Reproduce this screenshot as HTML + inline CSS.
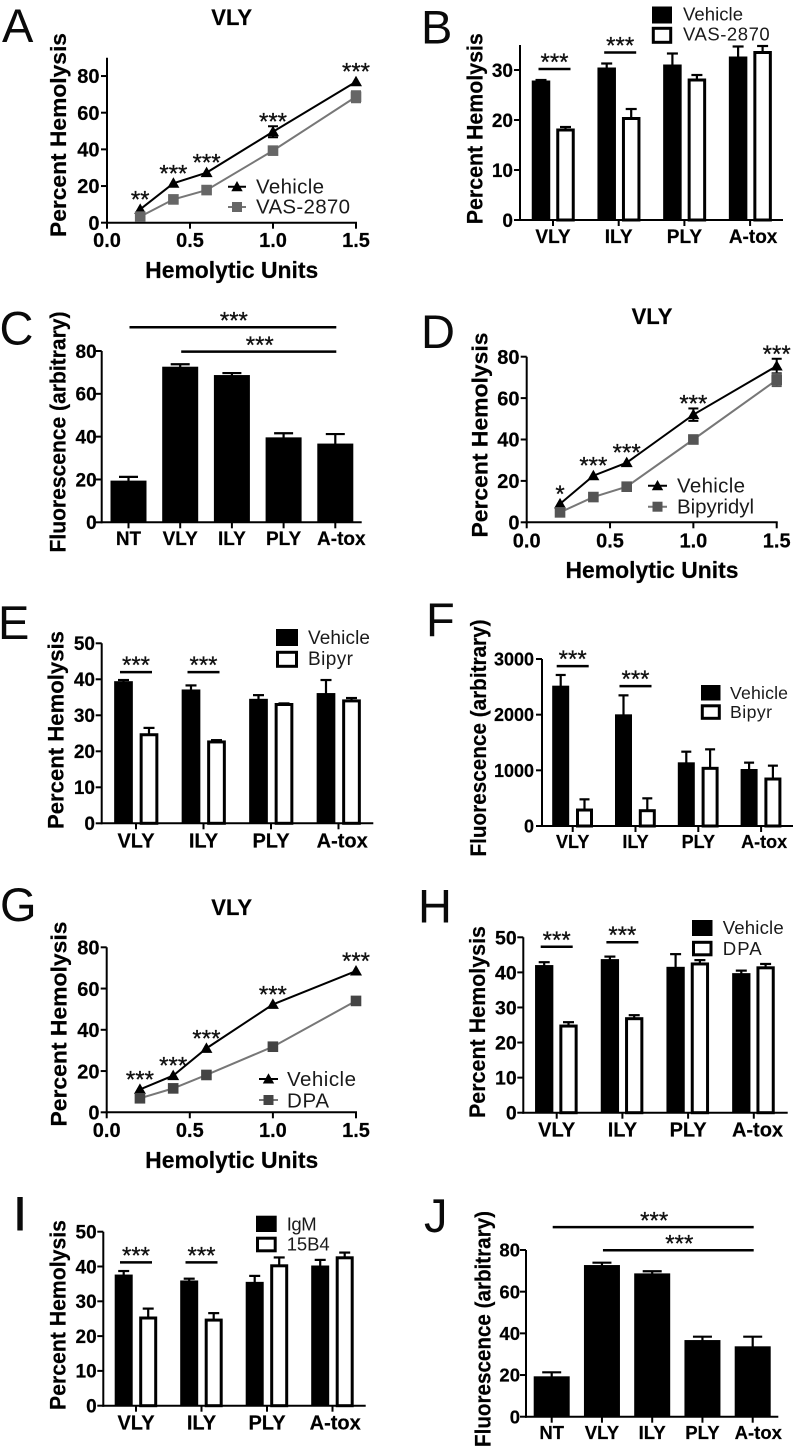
<!DOCTYPE html>
<html lang="en">
<head>
<meta charset="utf-8">
<title>Hemolysis and fluorescence figure panels</title>
<style>
html,body{margin:0;padding:0;background:#fff;}
svg{display:block;font-family:"Liberation Sans",Arial,sans-serif;filter:blur(0.3px);}
.letter{font-size:47px;fill:#0a0a0a;}
.title{font-size:22px;font-weight:bold;fill:#000;text-anchor:middle;stroke:#000;stroke-width:.2px;}
.ytitle{font-size:22.5px;font-weight:bold;fill:#000;text-anchor:middle;stroke:#000;stroke-width:.2px;}
.xtitle{font-size:22.8px;font-weight:bold;fill:#000;text-anchor:middle;stroke:#000;stroke-width:.2px;}
.leg{fill:#1a1a1a;}
</style>
</head>
<body>
<svg id="figure" xmlns="http://www.w3.org/2000/svg" width="800" height="1452" viewBox="0 0 800 1452">
<rect x="0" y="0" width="800" height="1452" fill="#fff"/>

<g id="panel-a">
  <text class="letter" x="2" y="42">A</text>
  <text class="title" x="231.7" y="25">VLY</text>
  <text class="ytitle" transform="translate(66 135) rotate(-90)" textLength="204" lengthAdjust="spacingAndGlyphs">Percent Hemolysis</text>
  <text class="xtitle" x="231.7" y="278" textLength="173" lengthAdjust="spacingAndGlyphs">Hemolytic Units</text>
  <g>
    <line x1="228" x2="246" y1="186.7" y2="186.7" stroke="#000" stroke-width="2"/>
    <polygon points="237,181 242.7,191.2 231.3,191.2" fill="#000"/>
    <text class="leg" x="256" y="193.5" font-size="20.5" textLength="68">Vehicle</text>
    <line x1="228" x2="246" y1="207" y2="207" stroke="#777" stroke-width="2"/>
    <rect x="232" y="202" width="10" height="10" fill="#666"/>
    <text class="leg" x="256" y="213.5" font-size="20.5" textLength="94">VAS-2870</text>
  </g>
</g>

<g id="panel-b">
  <text class="letter" x="421" y="43.5">B</text>
  <text class="ytitle" transform="translate(482.7 128.7) rotate(-90)" textLength="191" lengthAdjust="spacingAndGlyphs">Percent Hemolysis</text>
  <g>
    <rect x="652" y="6.5" width="20" height="17" fill="#000"/>
    <text class="leg" x="683" y="20.7" font-size="18.5" textLength="60">Vehicle</text>
    <rect x="653.3" y="28.3" width="17.4" height="14" fill="#fff" stroke="#000" stroke-width="3"/>
    <text class="leg" x="683" y="40.7" font-size="18.5" textLength="86.7">VAS-2870</text>
  </g>
</g>

<g id="panel-c">
  <text class="letter" x="-0.5" y="344.5">C</text>
  <text class="ytitle" transform="translate(65.7 432) rotate(-90)" textLength="241" lengthAdjust="spacingAndGlyphs">Fluorescence (arbitrary)</text>
</g>

<g id="panel-d">
  <text class="letter" x="421" y="348">D</text>
  <text class="title" x="652" y="324">VLY</text>
  <text class="ytitle" transform="translate(487.3 435) rotate(-90)" textLength="205" lengthAdjust="spacingAndGlyphs">Percent Hemolysis</text>
  <text class="xtitle" x="652" y="578" textLength="173" lengthAdjust="spacingAndGlyphs">Hemolytic Units</text>
  <g>
    <line x1="648" x2="667" y1="485.7" y2="485.7" stroke="#000" stroke-width="2"/>
    <polygon points="657.5,480 663.2,490.2 651.8,490.2" fill="#000"/>
    <text class="leg" x="677" y="492.3" font-size="20.5" textLength="68">Vehicle</text>
    <line x1="648" x2="667" y1="506.7" y2="506.7" stroke="#777" stroke-width="2"/>
    <rect x="652.5" y="501.7" width="10" height="10" fill="#555"/>
    <text class="leg" x="677" y="513.3" font-size="20.5" textLength="77">Bipyridyl</text>
  </g>
</g>

<g id="panel-e">
  <text class="letter" x="-2" y="639">E</text>
  <text class="ytitle" transform="translate(63.3 730) rotate(-90)" textLength="198" lengthAdjust="spacingAndGlyphs">Percent Hemolysis</text>
  <g>
    <rect x="276" y="629" width="22" height="17" fill="#000"/>
    <text class="leg" x="308" y="644" font-size="19" textLength="62">Vehicle</text>
    <rect x="277.5" y="652.3" width="19" height="14" fill="#fff" stroke="#000" stroke-width="3"/>
    <text class="leg" x="308" y="665" font-size="19" textLength="45">Bipyr</text>
  </g>
</g>

<g id="panel-f">
  <text class="letter" x="426" y="636">F</text>
  <text class="ytitle" transform="translate(486 738) rotate(-90)" textLength="237" lengthAdjust="spacingAndGlyphs">Fluorescence (arbitrary)</text>
  <g>
    <rect x="701" y="685" width="19.5" height="15.5" fill="#000"/>
    <text class="leg" x="730" y="699" font-size="17.7" textLength="58">Vehicle</text>
    <rect x="702.3" y="705.8" width="17" height="12.5" fill="#fff" stroke="#000" stroke-width="3"/>
    <text class="leg" x="730" y="718" font-size="17.7" textLength="42">Bipyr</text>
  </g>
</g>

<g id="panel-g">
  <text class="letter" x="0" y="921">G</text>
  <text class="title" x="231.7" y="915">VLY</text>
  <text class="ytitle" transform="translate(66.7 1024) rotate(-90)" textLength="205" lengthAdjust="spacingAndGlyphs">Percent Hemolysis</text>
  <text class="xtitle" x="231.7" y="1168" textLength="173" lengthAdjust="spacingAndGlyphs">Hemolytic Units</text>
  <g>
    <line x1="259" x2="278" y1="1079" y2="1079" stroke="#000" stroke-width="2"/>
    <polygon points="268.5,1073.3 274.2,1083.5 262.8,1083.5" fill="#000"/>
    <text class="leg" x="287" y="1086" font-size="20.5" textLength="69">Vehicle</text>
    <line x1="259" x2="278" y1="1100" y2="1100" stroke="#777" stroke-width="2"/>
    <rect x="263.5" y="1095" width="10" height="10" fill="#444"/>
    <text class="leg" x="287" y="1107.3" font-size="20.5" textLength="42">DPA</text>
  </g>
</g>

<g id="panel-h">
  <text class="letter" x="418" y="922.7">H</text>
  <text class="ytitle" transform="translate(485 1022) rotate(-90)" textLength="192" lengthAdjust="spacingAndGlyphs">Percent Hemolysis</text>
  <g>
    <rect x="692" y="920" width="20.5" height="16" fill="#000"/>
    <text class="leg" x="722.7" y="934" font-size="18.6" textLength="61">Vehicle</text>
    <rect x="693.5" y="942.3" width="17.5" height="12.5" fill="#fff" stroke="#000" stroke-width="3"/>
    <text class="leg" x="722.7" y="955" font-size="18.6" textLength="39">DPA</text>
  </g>
</g>

<g id="panel-i">
  <text class="letter" x="20" y="1230" text-anchor="middle" stroke="#0a0a0a" stroke-width="1">I</text>
  <text class="ytitle" transform="translate(65.7 1315) rotate(-90)" textLength="190" lengthAdjust="spacingAndGlyphs">Percent Hemolysis</text>
  <g>
    <rect x="256" y="1215.7" width="20.7" height="16.3" fill="#000"/>
    <text class="leg" x="286.7" y="1230.7" font-size="18.5" textLength="30">IgM</text>
    <rect x="257.5" y="1238.2" width="17.7" height="12.6" fill="#fff" stroke="#000" stroke-width="3"/>
    <text class="leg" x="286.7" y="1250.7" font-size="18.5" textLength="43">15B4</text>
  </g>
</g>

<g id="panel-j">
  <text class="letter" x="424" y="1232">J</text>
  <text class="ytitle" transform="translate(490.7 1329) rotate(-90)" textLength="236" lengthAdjust="spacingAndGlyphs">Fluorescence (arbitrary)</text>
</g>
</svg>

<script>
// ---------- shared categories and tick labels ----------
const doseValues = [0.2, 0.4, 0.6, 1.0, 1.5];
const doseTicks = [0, 0.5, 1.0, 1.5];
const doseTickLabels = ['0.0', '0.5', '1.0', '1.5'];
const toxinCategories = ['VLY', 'ILY', 'PLY', 'A-tox'];
const fluorCategories = ['NT', 'VLY', 'ILY', 'PLY', 'A-tox'];
const ticksTo30 = [0, 10, 20, 30];
const ticksTo50 = [0, 10, 20, 30, 40, 50];
const ticksTo80 = [0, 20, 40, 60, 80];
const ticksTo3000 = [0, 1000, 2000, 3000];

// ---------- panel A ----------
const aVehicle = [7.3, 21.5, 27.3, 49.6, 76.9];
const aVehicleErr = [0, 0, 0, 3, 0];
const aTreated = [3.3, 12.7, 17.8, 39.3, 68.7];
const aTreatedErr = [0, 0, 0, 0, 3];
const aStars = ['**', '***', '***', '***', '***'];
// ---------- panel B ----------
const bVehicle = [27.7, 30.3, 30.9, 32.5];
const bVehicleErr = [0.3, 1, 2.4, 2.2];
const bTreated = [18, 20.3, 28, 33.5];
const bTreatedErr = [0.6, 1.9, 1, 1.3];
const bSigLevels = [30.2, 33.5];
// ---------- panel C ----------
const cValues = [19, 72.2, 68.3, 39.2, 36.3];
const cErr = [2.2, 1.6, 1.4, 2.4, 4.9];
const cSigFrom = [0, 1];
const cSigTo = [4, 4];
const cSigLevels = [91.1, 79.7];
// ---------- panel D ----------
const dVehicle = [8.9, 22.5, 28.8, 52, 75.5];
const dVehicleErr = [0, 0, 0, 3, 3.5];
const dTreated = [4.8, 12.2, 17.2, 40, 68.8];
const dTreatedErr = [0, 0, 0, 0, 3];
const dStars = ['*', '***', '***', '***', '***'];
// ---------- panel E ----------
const eVehicle = [39.2, 36.9, 34.3, 35.9];
const eVehicleErr = [0.6, 1.4, 1.3, 3.9];
const eTreated = [24.6, 22.6, 33, 34];
const eTreatedErr = [1.9, 0.5, 0.3, 0.8];
const eSigLevels = [42, 42];
// ---------- panel F ----------
const fVehicle = [2503, 1988, 1126, 1006];
const fVehicleErr = [210, 359, 209, 132];
const fTreated = [287, 275, 1036, 844];
const fTreatedErr = [192, 222, 341, 240];
const fSigLevels = [2873, 2513];
// ---------- panel G ----------
const gVehicle = [11.1, 17.8, 31, 52.3, 68.5];
const gVehicleErr = [0, 0, 0, 0, 0];
const gTreated = [6.8, 11.6, 18.1, 31.8, 54];
const gTreatedErr = [0, 0, 0, 0, 0];
const gStars = ['***', '***', '***', '***', '***'];
// ---------- panel H ----------
const hVehicle = [41.8, 43.5, 41.3, 39.5];
const hVehicleErr = [1.1, 1, 3.9, 1];
const hTreated = [24.7, 26.8, 42.4, 41.3];
const hTreatedErr = [1.1, 1, 1.1, 1.1];
const hSigLevels = [47.3, 48.6];
// ---------- panel I ----------
const iVehicle = [37.4, 35.7, 35.3, 40];
const iVehicleErr = [1.3, 0.8, 2, 1.9];
const iTreated = [25.2, 24.6, 40.2, 42.5];
const iTreatedErr = [2.7, 2, 2.4, 1.5];
const iSigLevels = [41.2, 41.2];
// ---------- panel J ----------
const jValues = [18.9, 72.3, 68.3, 36.3, 33.3];
const jErr = [2.4, 1.6, 1.5, 2.1, 5.1];
const jSigFrom = [0, 1];
const jSigTo = [4, 4];
const jSigLevels = [91, 79.9];

// ---------- drawing helpers ----------
const SVGNS = 'http://www.w3.org/2000/svg';

function mk(parent, tag, name, props, text) {
  const el = document.createElementNS(SVGNS, tag);
  
  
  for (const k in props) el.setAttribute(k, props[k]);
  if (text !== undefined) el.textContent = text;
  parent.appendChild(el);
  return el;
}

function linear(d0, d1, r0, r1) {
  return function (v) { return r0 + (v - d0) * (r1 - r0) / (d1 - d0); };
}

function line(parent, name, x1, y1, x2, y2, color, w) {
  return mk(parent, 'line', name, { x1: x1, y1: y1, x2: x2, y2: y2, stroke: color, 'stroke-width': w });
}

function yAxis(g, y, L, ticks) {
  line(g, 'y-axis', L.xAxis, L.y0 + 1, L.xAxis, L.yTop, '#000', 2);
  ticks.forEach(function (t) {
    line(g, 'y-tick', L.xAxis - 6, y(t), L.xAxis, y(t), '#000', 2);
    mk(g, 'text', 'y-tick-label', {
      x: L.tickRight, y: y(t) + L.fontTick * 0.36, 'text-anchor': 'end',
      'font-size': L.fontTick, 'font-weight': 'bold', fill: '#000', stroke: '#000', 'stroke-width': 0.2
    }, String(t));
  });
}

function stars(g, name, x, y, label) {
  mk(g, 'text', name, { x: x, y: y + 11, 'text-anchor': 'middle', 'font-size': 24, fill: '#111', stroke: '#111', 'stroke-width': 0.3 }, label);
}

function drawLineSeries(g, name, x, y, vals, errs, lineColor, markColor, shape) {
  const pts = doseValues.map(function (d, i) { return x(d) + ',' + y(vals[i]); }).join(' ');
  mk(g, 'polyline', name + '-line', { points: pts, fill: 'none', stroke: lineColor, 'stroke-width': 2 });
  doseValues.forEach(function (d, i) {
    const px = x(d), py = y(vals[i]);
    if (errs[i] > 0) {
      const top = y(vals[i] + errs[i]), bot = y(vals[i] - errs[i]);
      line(g, name + '-error-bar', px, top, px, bot, markColor, 2);
      line(g, name + '-error-cap', px - 5, top, px + 5, top, markColor, 2);
      line(g, name + '-error-cap', px - 5, bot, px + 5, bot, markColor, 2);
    }
    if (shape === 'triangle') {
      mk(g, 'polygon', name + '-point', {
        points: px + ',' + (py - 6) + ' ' + (px + 6) + ',' + (py + 4.5) + ' ' + (px - 6) + ',' + (py + 4.5),
        fill: markColor
      });
    } else {
      mk(g, 'rect', name + '-point', { x: px - 5.3, y: py - 5.3, width: 10.6, height: 10.6, fill: markColor });
    }
  });
}

function drawLinePanel(id, L, yTicks, vehicle, vehicleErr, treated, treatedErr, starLabels, treatedMark) {
  const g = document.getElementById(id);
  const x = linear(0, 1.5, L.xAxis, L.xEnd);
  const y = linear(0, L.yMax, L.y0, L.yTop);
  yAxis(g, y, L, yTicks);
  line(g, 'x-axis', L.xAxis - 1, L.y0, L.xEnd + 1, L.y0, '#000', 2);
  doseTicks.forEach(function (t, i) {
    line(g, 'x-tick', x(t), L.y0, x(t), L.y0 + 6, '#000', 2);
    mk(g, 'text', 'x-tick-label', {
      x: x(t), y: L.labelBase, 'text-anchor': 'middle',
      'font-size': L.fontTick, 'font-weight': 'bold', fill: '#000', stroke: '#000', 'stroke-width': 0.2
    }, doseTickLabels[i]);
  });
  drawLineSeries(g, 'vehicle', x, y, vehicle, vehicleErr, '#000', '#000', 'triangle');
  drawLineSeries(g, 'treated', x, y, treated, treatedErr, '#777', treatedMark, 'square');
  starLabels.forEach(function (s, i) {
    const cy = Math.min(y(vehicle[i]) - 13, y(vehicle[i] + vehicleErr[i]) - 8);
    stars(g, 'significance-stars', x(doseValues[i]), cy, s);
  });
}

function drawBar(g, name, cx, y, L, value, err, white) {
  const top = y(value), errTop = y(value + err);
  line(g, name + '-error-bar', cx, errTop, cx, top, '#000', 2.2);
  line(g, name + '-error-cap', cx - L.capW / 2, errTop, cx + L.capW / 2, errTop, '#000', 2.2);
  if (white) {
    mk(g, 'rect', name, {
      x: cx - L.bw / 2 + 1.5, y: top, width: L.bw - 3, height: L.y0 - top,
      fill: '#fff', stroke: '#000', 'stroke-width': 3
    });
  } else {
    mk(g, 'rect', name, { x: cx - L.bw / 2, y: top - 1, width: L.bw, height: L.y0 - top + 1, fill: '#000' });
  }
}

function xBandAxis(g, L, cats, band) {
  line(g, 'x-axis', L.xAxis - 1, L.y0, L.xEnd, L.y0, '#000', 2);
  cats.forEach(function (c, i) {
    line(g, 'x-tick', band(i), L.y0, band(i), L.y0 + 6, '#000', 2);
    mk(g, 'text', 'x-category-label', {
      x: band(i) + (i === cats.length - 1 ? L.lastLabelDx : 0), y: L.labelBase, 'text-anchor': 'middle',
      'font-size': L.fontCat, 'font-weight': 'bold', fill: '#000', stroke: '#000', 'stroke-width': 0.2
    }, c);
  });
}

function drawGroupedPanel(id, L, yTicks, vehicle, vehicleErr, treated, treatedErr, sigLevels) {
  const g = document.getElementById(id);
  const y = linear(0, L.yMax, L.y0, L.yTop);
  const band = function (i) { return L.firstTick + i * L.step; };
  toxinCategories.forEach(function (c, i) {
    drawBar(g, 'bar-vehicle-' + c.toLowerCase(), band(i) + L.blackDx, y, L, vehicle[i], vehicleErr[i], false);
    drawBar(g, 'bar-treated-' + c.toLowerCase(), band(i) + L.whiteDx, y, L, treated[i], treatedErr[i], true);
  });
  yAxis(g, y, L, yTicks);
  xBandAxis(g, L, toxinCategories, band);
  sigLevels.forEach(function (lvl, i) {
    const cx = band(i) + L.sigDx, ly = y(lvl);
    line(g, 'significance-bar', cx - 16, ly, cx + 16, ly, '#000', 2.5);
    stars(g, 'significance-stars', cx, ly - 10, '***');
  });
}

function drawSinglePanel(id, L, yTicks, values, errs, sigFrom, sigTo, sigLevels) {
  const g = document.getElementById(id);
  const y = linear(0, L.yMax, L.y0, L.yTop);
  const band = function (i) { return L.firstTick + i * L.step; };
  fluorCategories.forEach(function (c, i) {
    drawBar(g, 'bar-' + c.toLowerCase(), band(i), y, L, values[i], errs[i], false);
  });
  yAxis(g, y, L, yTicks);
  xBandAxis(g, L, fluorCategories, band);
  sigLevels.forEach(function (lvl, i) {
    const x1 = band(sigFrom[i]) + 1, x2 = band(sigTo[i]) + 1, ly = y(lvl);
    line(g, 'significance-bar', x1, ly, x2, ly, '#000', 2.5);
    stars(g, 'significance-stars', (x1 + x2) / 2 + 1, ly - 9.5, '***');
  });
}

// ---------- panels ----------
drawLinePanel('panel-a', { xAxis: 107, xEnd: 356, y0: 222.7, yTop: 57.7, yMax: 90, tickRight: 99.5, labelBase: 247, fontTick: 20 },
  ticksTo80, aVehicle, aVehicleErr, aTreated, aTreatedErr, aStars, '#666');
drawLinePanel('panel-d', { xAxis: 526.7, xEnd: 776.7, y0: 522.3, yTop: 356.7, yMax: 80, tickRight: 519.5, labelBase: 547.5, fontTick: 20 },
  ticksTo80, dVehicle, dVehicleErr, dTreated, dTreatedErr, dStars, '#555');
drawLinePanel('panel-g', { xAxis: 106.7, xEnd: 356, y0: 1112.3, yTop: 947.3, yMax: 80, tickRight: 99.5, labelBase: 1137, fontTick: 20 },
  ticksTo80, gVehicle, gVehicleErr, gTreated, gTreatedErr, gStars, '#444');

drawGroupedPanel('panel-b', { xAxis: 520, xEnd: 783, y0: 220, yTop: 45, yMax: 35, firstTick: 553, step: 65.7, bw: 18.5, blackDx: -12, whiteDx: 12.5, capW: 11, tickRight: 513, labelBase: 243, lastLabelDx: 3, sigDx: 1.5, fontTick: 19, fontCat: 19 },
  ticksTo30, bVehicle, bVehicleErr, bTreated, bTreatedErr, bSigLevels);
drawGroupedPanel('panel-e', { xAxis: 101.7, xEnd: 373.3, y0: 823.3, yTop: 643.3, yMax: 50, firstTick: 136, step: 67.5, bw: 18.7, blackDx: -12.5, whiteDx: 13, capW: 11, tickRight: 95, labelBase: 847.7, lastLabelDx: 3.7, sigDx: 0, fontTick: 19, fontCat: 20 },
  ticksTo50, eVehicle, eVehicleErr, eTreated, eTreatedErr, eSigLevels);
drawGroupedPanel('panel-f', { xAxis: 542, xEnd: 793, y0: 826, yTop: 659, yMax: 3000, firstTick: 572.7, step: 62.8, bw: 17, blackDx: -12, whiteDx: 11.8, capW: 10, tickRight: 534, labelBase: 848, lastLabelDx: 3, sigDx: 0, fontTick: 18, fontCat: 18 },
  ticksTo3000, fVehicle, fVehicleErr, fTreated, fTreatedErr, fSigLevels);
drawGroupedPanel('panel-h', { xAxis: 523.3, xEnd: 787.7, y0: 1112.7, yTop: 937.3, yMax: 50, firstTick: 556.7, step: 65.7, bw: 18.3, blackDx: -12.5, whiteDx: 11.8, capW: 11, tickRight: 516.7, labelBase: 1136.7, lastLabelDx: 3.7, sigDx: 0, fontTick: 19.5, fontCat: 20 },
  ticksTo50, hVehicle, hVehicleErr, hTreated, hTreatedErr, hSigLevels);
drawGroupedPanel('panel-i', { xAxis: 103.3, xEnd: 365.7, y0: 1405.7, yTop: 1231.7, yMax: 50, firstTick: 136, step: 65.5, bw: 18, blackDx: -12.3, whiteDx: 12.2, capW: 11, tickRight: 96.7, labelBase: 1429.3, lastLabelDx: 2.7, sigDx: 0, fontTick: 19, fontCat: 20 },
  ticksTo50, iVehicle, iVehicleErr, iTreated, iTreatedErr, iSigLevels);

drawSinglePanel('panel-c', { xAxis: 101.7, xEnd: 361.7, y0: 522.3, yTop: 351, yMax: 80, firstTick: 128.5, step: 51.7, bw: 36, capW: 19, tickRight: 96.7, labelBase: 545, lastLabelDx: 6, fontTick: 19, fontCat: 19 },
  ticksTo80, cValues, cErr, cSigFrom, cSigTo, cSigLevels);
drawSinglePanel('panel-j', { xAxis: 526, xEnd: 778.3, y0: 1416.7, yTop: 1250, yMax: 80, firstTick: 551.7, step: 50.25, bw: 36, capW: 19, tickRight: 520, labelBase: 1439, lastLabelDx: 5.6, fontTick: 18.5, fontCat: 18.5 },
  ticksTo80, jValues, jErr, jSigFrom, jSigTo, jSigLevels);
</script>
</body>
</html>
